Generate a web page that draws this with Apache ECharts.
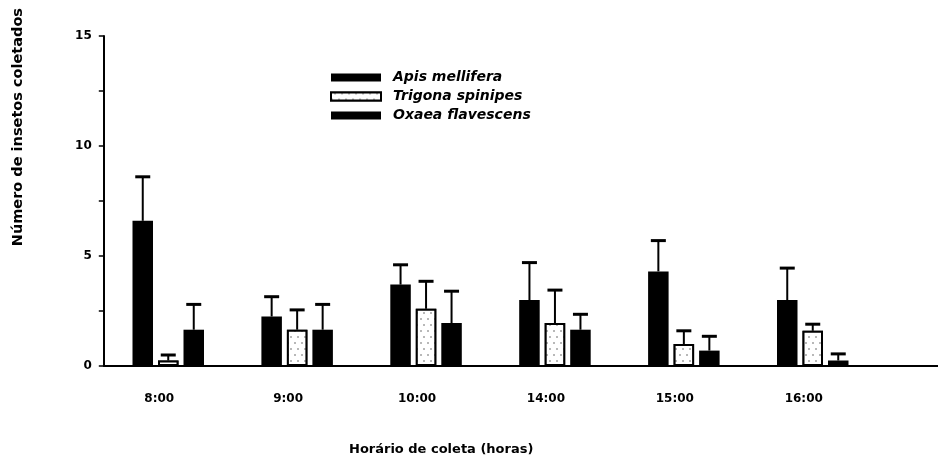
<!DOCTYPE html>
<html>
<head>
<meta charset="utf-8">
<script src="https://cdn.jsdelivr.net/npm/echarts@6/dist/echarts.min.js"></script>
<style>
  html, body { margin: 0; padding: 0; background: #fff; }
  #chart { width: 938px; height: 463px; }
</style>
</head>
<body>
<div id="chart"></div>
<script>
// Sampling times (categories)
const horarios = ['8:00', '9:00', '10:00', '14:00', '15:00', '16:00'];

// Mean number of insects collected per species
const apisMedia    = [6.6, 2.25, 3.7, 3.0, 4.3, 3.0];
const trigonaMedia = [0.25, 1.65, 2.6, 1.95, 1.0, 1.6];
const oxaeaMedia   = [1.65, 1.65, 1.95, 1.65, 0.7, 0.25];

// Standard deviations (upper error bars)
const apisDesvio    = [2.0, 0.9, 0.9, 1.7, 1.4, 1.45];
const trigonaDesvio = [0.25, 0.9, 1.25, 1.5, 0.6, 0.3];
const oxaeaDesvio   = [1.15, 1.15, 1.45, 0.7, 0.65, 0.3];

// Y axis ticks
const yTicks = [0, 5, 10, 15];

const especies = ['Apis mellifera', 'Trigona spinipes', 'Oxaea flavescens'];

const BAR_W = 20.5;
const BAR_GAP = 5;

function errorSeries(medias, desvios, slot) {
  return {
    type: 'custom',
    xAxisIndex: 0,
    yAxisIndex: 0,
    silent: true,
    z: 1,
    data: medias.map((m, i) => [i, m, m + desvios[i]]),
    renderItem: function (params, api) {
      const base = api.coord([api.value(0), api.value(1)]);
      const top = api.coord([api.value(0), api.value(2)]);
      const x = base[0] + slot * (BAR_W + BAR_GAP);
      const capHalf = 7.5;
      return {
        type: 'group',
        children: [
          { type: 'line', shape: { x1: x, y1: base[1], x2: x, y2: top[1] },
            style: { stroke: '#000', lineWidth: 2 } },
          { type: 'line', shape: { x1: x - capHalf, y1: top[1], x2: x + capHalf, y2: top[1] },
            style: { stroke: '#000', lineWidth: 3 } }
        ]
      };
    }
  };
}

const chart = echarts.init(document.getElementById('chart'), null, { renderer: 'canvas' });

const boldFont = 'DejaVu Sans';

chart.setOption({
  backgroundColor: '#fff',
  animation: false,
  legend: {
    orient: 'vertical',
    left: 325,
    top: 65,
    itemWidth: 50,
    itemHeight: 8,
    itemGap: 4,
    icon: 'rect',
    data: especies,
    textStyle: {
      fontFamily: boldFont,
      fontWeight: 'bold',
      fontStyle: 'italic',
      fontSize: 14,
      color: '#000',
      lineHeight: 15,
      padding: [0, 0, 0, 7]
    }
  },
  grid: [
    { left: 103.8, right: 60.8, top: 36, bottom: 97 },
    { left: 103.8, right: 0, top: 36, bottom: 97 }
  ],
  xAxis: [
    {
      type: 'category',
      gridIndex: 0,
      data: horarios,
      axisLine: { show: false },
      axisTick: { show: false },
      axisLabel: {
        margin: 27,
        fontFamily: boldFont,
        fontWeight: 'bold',
        fontSize: 12,
        color: '#000',
        padding: [0, 18, 0, 0]
      },
      splitLine: { show: false }
    },
    {
      type: 'value',
      gridIndex: 1,
      min: 0,
      max: 1,
      axisLine: { show: true, onZero: false, lineStyle: { color: '#000', width: 2 } },
      axisTick: { show: false },
      axisLabel: { show: false },
      splitLine: { show: false }
    }
  ],
  yAxis: [
    {
      type: 'value',
      gridIndex: 0,
      min: 0,
      max: 15,
      interval: 2.5,
      axisLine: { show: true, lineStyle: { color: '#000', width: 2 } },
      axisTick: { show: true, length: 5, lineStyle: { color: '#000', width: 1.5 } },
      axisLabel: {
        margin: 12,
        fontFamily: boldFont,
        fontWeight: 'bold',
        fontSize: 12,
        color: '#000',
        formatter: v => (yTicks.indexOf(v) >= 0 ? String(v) : '')
      },
      splitLine: { show: false }
    },
    { type: 'value', gridIndex: 1, show: false, min: 0, max: 1 }
  ],
  graphic: [
    {
      type: 'text',
      left: 11,
      top: 8,
      rotation: Math.PI / 2,
      style: {
        text: 'Número de insetos coletados',
        fontFamily: boldFont,
        fontWeight: 'bold',
        fontSize: 14.5,
        fill: '#000'
      }
    },
    {
      type: 'text',
      left: 349,
      top: 443,
      style: {
        text: 'Horário de coleta (horas)',
        fontFamily: boldFont,
        fontWeight: 'bold',
        fontSize: 13,
        fill: '#000'
      }
    }
  ],
  series: [
    {
      name: especies[0],
      type: 'bar',
      data: apisMedia,
      barWidth: BAR_W,
      barGap: (BAR_GAP / BAR_W * 100) + '%',
      itemStyle: { color: '#000' },
      z: 2
    },
    {
      name: especies[1],
      type: 'bar',
      data: trigonaMedia,
      barWidth: BAR_W,
      itemStyle: {
        color: '#fff',
        borderColor: '#000',
        borderWidth: 2,
        decal: {
          symbol: 'rect',
          symbolSize: 1,
          color: 'rgba(0,0,0,0.28)',
          backgroundColor: '#fff',
          dashArrayX: [[1.5, 4.5], [0, 3, 1.5, 1.5]],
          dashArrayY: [1.5, 4],
          rotation: 0
        }
      },
      z: 2
    },
    {
      name: especies[2],
      type: 'bar',
      data: oxaeaMedia,
      barWidth: BAR_W,
      itemStyle: { color: '#000' },
      z: 2
    },
    errorSeries(apisMedia, apisDesvio, -1),
    errorSeries(trigonaMedia, trigonaDesvio, 0),
    errorSeries(oxaeaMedia, oxaeaDesvio, 1)
  ]
});
</script>
</body>
</html>
